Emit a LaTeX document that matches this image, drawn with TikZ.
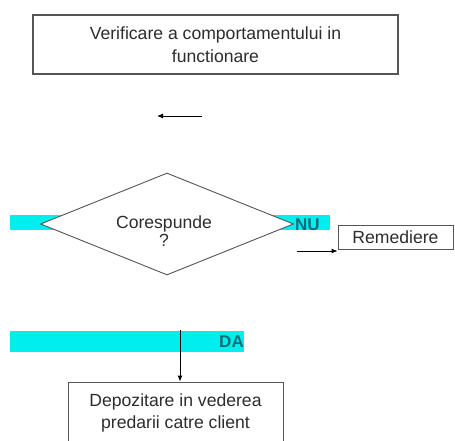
\documentclass[tikz,border=0pt]{standalone}
\usepackage{fontspec}
\setmainfont{Liberation Sans}
\usetikzlibrary{shapes.geometric,arrows.meta}
\definecolor{bandcyan}{RGB}{0,238,238}
\definecolor{labteal}{RGB}{0,110,120}
\definecolor{txtgray}{RGB}{45,45,45}
\definecolor{edgegray}{RGB}{85,85,85}
\begin{document}
\begin{tikzpicture}[x=1pt,y=-1pt,
  font=\fontsize{17.6}{22.5}\selectfont,
  procbox/.style={draw=edgegray, line width=1.3pt, fill=white, text=txtgray, align=center, inner sep=0pt},
  smallbox/.style={draw=edgegray, line width=0.9pt, fill=white, text=txtgray, align=center, inner sep=0pt},
  decis/.style={draw=edgegray, line width=0.9pt, diamond, fill=white, inner sep=0pt},
  band/.style={fill=bandcyan},
  lab/.style={text=labteal, font=\fontsize{17}{20}\selectfont\bfseries, inner sep=0pt},
  conn/.style={draw=black, line width=0.9pt, -{Latex[length=6pt,width=5pt]}}]
\useasboundingbox (0,0) rectangle (455,441);
\fill[white] (0,0) rectangle (455,441);
% top process
\node[procbox, minimum width=365, minimum height=59] (verif) at (215.5,44.5) {Verificare a comportamentului in\\functionare};
% floating arrow
\coordinate (la1) at (202,116);
\coordinate (la2) at (157,116);
\draw[conn] (la1) -- (la2);
% cyan band for NU
\fill[band] (10,215) rectangle (330,230);
\node[decis, minimum width=253, minimum height=102] (dec) at (167,224) {};
\node[text=txtgray, align=center, inner sep=0pt, font=\fontsize{17.6}{18.5}\selectfont] (dectxt) at (164,231) {Corespunde\\?};
\node[lab, anchor=west] (nu) at (295,225) {NU};
% Remediere
\node[smallbox, minimum width=115, minimum height=24] (rem) at (395.5,237) {Remediere};
\coordinate (ra) at (297,251);
\draw[conn] (ra) -- (rem.south west |- ra);
% cyan band for DA
\fill[band] (10,331) rectangle (244,352);
\node[lab, anchor=east] (da) at (244,342) {DA};
% bottom process
\node[smallbox, minimum width=215, minimum height=62] (dep) at (175.5,413) {Depozitare in vederea\\predarii catre client};
\coordinate (va) at (180,330);
\draw[conn] (va) -- (va |- dep.north);
\end{tikzpicture}
\end{document}
